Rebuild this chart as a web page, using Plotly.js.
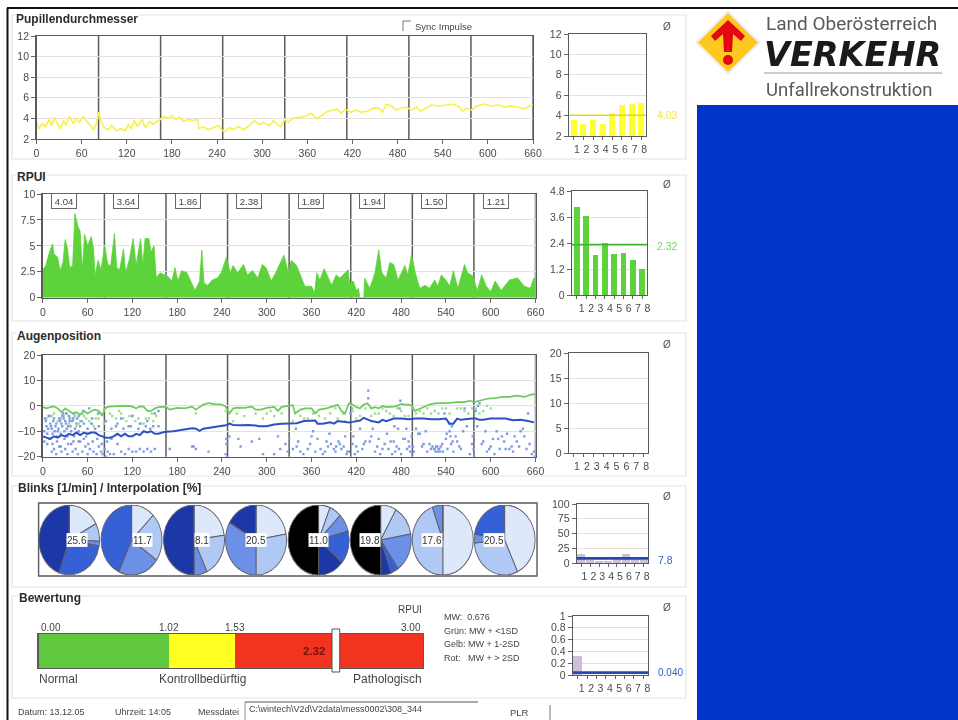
<!DOCTYPE html>
<html><head><meta charset="utf-8">
<script src="https://cdn.plot.ly/plotly-3.0.1.min.js"></script>
<style>
html,body{margin:0;padding:0;background:#fff;width:958px;height:720px;overflow:hidden}
#wrap{position:relative;width:958px;height:720px;filter:blur(0.7px)}
#main{position:absolute;left:0;top:0;width:958px;height:720px}
#pies{position:absolute;left:39px;top:505px;width:498px;height:61px;transform-origin:0 0;transform:scaleY(1.148);pointer-events:none}
</style></head><body>
<div id="wrap"><div id="main"></div><div id="pies"></div></div>
<script>
// ---------- data ----------
const timeTicks=[0,60,120,180,240,300,360,420,480,540,600,660];
const segmentEnds=[82.5,165,247.5,330,412.5,495,577.5,660];
const segments=[1,2,3,4,5,6,7,8];

const pupilT=[0,3,8,12,17,20,24,27,32,36,39,44,49,53,57,62,66,72,76,80,83,86,90,95,100,106,112,118,122,126,130,134,140,145,150,155,160,165,170,176,180,185,190,196,202,208,214,216,222,228,235,242,246,250,256,262,268,276,284,290,296,302,310,315,320,325,330,335,340,350,358,365,372,380,385,392,400,405,410,418,425,432,440,448,455,460,465,472,478,485,492,498,505,510,518,525,535,545,555,562,566,572,578,585,595,605,615,622,630,640,648,655,660];
const pupilV=[3.6,3.0,3.5,3.2,3.9,3.3,4.1,3.6,3.0,3.8,3.3,4.2,3.5,4.0,3.6,4.2,3.8,3.2,2.9,3.6,4.6,3.7,3.1,2.9,3.3,2.8,3.0,2.8,3.4,3.0,3.8,3.2,3.9,3.1,3.7,3.4,3.7,3.9,4.2,4.0,4.3,3.9,4.1,3.7,3.9,3.8,3.9,3.0,3.2,2.9,3.1,3.3,2.9,2.7,3.1,2.9,3.2,2.9,3.4,3.8,3.4,3.6,3.3,3.8,3.4,3.2,3.9,3.6,4.0,4.1,4.2,4.5,4.0,4.3,4.6,4.8,4.9,4.5,4.9,4.6,4.8,4.6,4.7,5.0,5.0,4.6,5.4,5.2,4.8,5.0,5.1,4.8,5.1,4.7,5.0,5.3,5.2,5.3,5.4,5.1,4.7,5.0,4.8,5.2,5.4,5.2,5.3,5.1,5.2,5.1,4.9,5.2,5.3];

const rpuiT=[0,4,9,13,15,20,23,27,30,33,36,40,43,47,50,53,56,60,65,68,70,74,78,83,87,91,96,99,103,108,111,116,121,125,131,134,137,142,145,149,152,157,163,167,173,177,181,186,193,199,204,210,213,216,221,227,234,239,246,251,255,261,269,274,281,288,294,299,306,312,323,329,333,340,346,351,360,364,367,371,377,381,387,393,398,402,409,411,416,420,423,424.5,430,431,438,445,450,454,460,465,470,476,485,489,494,499,505,512,518,525,529,534,541,545,550,556,565,569,576,582,588,594,600,606,614,625,636,645,653,658,660];
const rpuiV=[2.7,3.1,4.4,5.2,4.2,3.9,2.6,3.4,5.6,4.7,2.9,3.1,8.1,6.9,6.4,2.7,6.1,5.0,5.9,4.7,2.1,3.6,2.7,5.0,3.2,3.1,6.2,2.9,2.7,4.7,2.4,3.7,5.7,3.1,5.7,3.1,5.7,5.7,4.4,5.0,1.9,2.4,2.2,2.1,1.6,2.9,1.6,2.6,2.4,1.4,0.7,1.6,4.6,1.4,1.2,1.7,1.9,2.4,3.9,2.4,3.1,2.4,3.2,2.2,2.6,1.9,3.2,2.9,1.6,2.4,4.1,2.4,3.6,3.1,1.9,1.1,1.1,0.4,2.4,1.7,2.8,2.1,1.2,2.2,1.9,2.2,2.7,1.4,1.6,0.7,0.9,0,0,1.9,0.9,2.4,4.6,2.4,1.9,3.4,3.2,1.7,3.1,2.2,4.2,2.4,0.9,1.2,0.9,1.7,1.1,2.2,1.6,1.1,2.6,0.9,3.2,2.4,2.1,0.7,2.2,1.1,0.6,1.6,0.7,1.7,1.9,1.1,0.9,1.9,1.9];
const rpuiBoxes=["4.04","3.64","1.86","2.38","1.89","1.94","1.50","1.21"];

const eyeGreenT=[0,5,10,15,20,25,30,35,40,45,50,55,60,65,70,75,80,83,88,95,105,115,120,125,130,135,140,145,150,155,165,170,180,190,200,205,210,215,222,230,240,245,250,255,262,270,280,285,292,300,310,315,320,330,335,338,345,352,360,365,370,380,388,395,400,405,410,415,420,425,430,435,440,445,450,455,460,465,470,475,480,485,490,495,498,502,510,518,525,535,545,555,565,572,578,585,595,605,615,625,635,645,655,660];
const eyeGreenV=[-0.5,-1,-0.5,-0.2,-1,-2.5,-1,-2,-3,-2.5,-3.5,-2,-3,-2,-1.5,-2,-4,-1,-0.3,-0.2,-0.2,0,-0.3,-1,-0.2,-0.3,-2,-2,-1,-0.5,-0.3,-1.5,-0.8,-1,-0.3,-1.5,-0.5,0.5,1.1,0.7,0.5,-0.3,-3,-1,-0.7,-0.8,-0.3,-1.5,-1.5,-0.8,-0.4,-2,-0.4,0,0.3,-3,-1.5,-1,-1,-3,-1.5,-1,-0.3,0.4,-2,-3,1,0.5,-0.5,-1,0.5,1,-1,-0.5,-1,0,-0.5,-0.5,-0.3,0,0.8,0.5,0.5,0,-2,-1.5,-0.5,0.5,1,1,1.2,1.5,1.5,2,1.5,2,2.8,3,3.5,3.5,4,3.5,4.5,4.5];
const eyeBlueT=[0,5,10,15,20,25,30,35,40,45,50,55,60,65,70,75,80,85,90,95,100,105,110,115,120,125,130,135,140,145,150,155,160,165,175,185,195,200,205,210,215,222,230,240,247,250,255,265,275,285,290,300,310,320,330,340,350,360,365,368,375,385,390,395,400,410,415,425,430,435,440,450,455,460,470,480,490,500,510,520,530,540,545,550,555,560,570,575,580,585,590,600,610,620,630,640,650,658];
const eyeBlueV=[-12,-12.5,-13,-12,-12.5,-11.5,-12,-11,-11.5,-10.5,-11.5,-10.5,-11,-10.5,-10.5,-11.5,-12,-12.5,-12.5,-12,-11,-12,-11,-12,-12,-11,-11.5,-10,-10.5,-10,-11,-11,-10.5,-10.2,-10,-9.5,-9,-8.8,-9,-9.8,-9,-8.7,-8.5,-8,-7.5,-7,-7.5,-7.6,-7.5,-7.7,-8,-8,-7.3,-7,-7,-6.8,-6,-5.8,-5.8,-7,-7,-6.5,-7,-6,-6.2,-6.5,-6.3,-5.8,-4.7,-5.3,-6,-6.5,-5.5,-6,-5,-5,-5.3,-5,-5,-5.3,-5.3,-5,-7,-7,-5,-5.5,-5,-5,-5,-5.5,-5.5,-5,-5,-5,-5.7,-5.5,-6,-6.5];
const blueDotsT=[3,5,8,10,12,14,17,20,22,25,27,30,32,35,37,40,43,46,50,55,60,62,65,70,75,12,15,18,22,25,30,33,38,40,44,47,50,53,57,60,63,68,72,75,78,80,83,85,87,90,95,100,105,110,115,120,125,130,135,140,145,150,100,105,115,120,130,140,150,155,155,170,200,202,205,222,245,246,246,247,250,262,265,280,290,295,310,315,318,325,328,330,335,340,345,355,360,365,372,378,382,386,390,393,396,400,403,407,410,412,414,416,418,422,428,432,436,436,440,445,450,452,458,463,468,470,472,474,476,478,479,480,485,488,490,492,494,495,496,500,505,510,515,520,525,528,530,532,535,538,540,542,545,546,547,548,550,555,560,565,572,576,577,578,580,583,585,590,595,600,605,610,615,620,625,630,635,640,645,650,652,655,658,659,
 2,4,6,7,9,11,13,15,16,18,19,21,23,24,26,28,29,31,33,34,36,38,41,42,45,48,52,58,2,6,9,13,19,24,29,34,41,48,55,61,67,73,79,86,92,26,31,36,42,48,54,66,74,84,92,98,108,118,128,138,144,148,
 339,342,349,358,362,368,375,380,384,392,398,405,408,415,420,425,430,438,442,448,455,461,466,471,477,483,487,491,497,503,508,513,518,522,524,526,527,529,531,533,536,541,544,549,553,558,563,568,575,582,588,593,598,603,608,612,618,622,628,632,638,643,648];
const blueDotsV=[-5,-8,-4,-7,-9,-6,-8,-10,-5,-7,-3,-6,-9,-4,-8,-6,-9,-5,-8,-7,-9,-1,-7,-9,-8,-18,-17,-19,-16,-18,-17,-19,-15,-18,-17,-19,-14,-18,-16,-19,-17,-18,-19,-16,-18,-19,-17,-20,-18,-19,-19,-15,-18,-19,-17,-18,-18,-17,-18,-17,-18,-17,-7,-5,-8,-4,-7,-6,-3,-2,-8,-17,-16,-16,-17,-18,-19,-13,-15,-20,-12,-13,-16,-14,-13,-19,-19,-12,-17,-15,-18,-13,-17,-16,-18,-17,-12,-18,-17,-18,-16,-15,-17,-16,-14,-17,-16,-19,-18,-3,-1,-12,-19,-18,-17,-14,6,3,-12,-18,-13,-19,-15,-17,-19,-14,-18,-16,-9,-1,2,-19,-13,-17,-14,-18,-12,-19,-16,-9,-11,-15,-18,-17,-17,-16,-17,-18,-15,-3,-13,-17,-10,-12,-15,-8,-18,-14,-17,-1,-19,-12,-17,-20,-2,0,1,-14,-18,-16,-19,-13,-12,-17,-17,-18,-14,-10,-12,-3,-15,-19,-18,-20,
 -10,-6,-11,-9,-4,-8,-11,-5,-10,-7,-12,-9,-6,-11,-8,-5,-10,-7,-12,-8,-6,-10,-5,-12,-7,-10,-6,-12,-14,-15,-13,-15,-14,-16,-13,-15,-14,-14,-13,-15,-14,-13,-15,-14,-13,-4,-3,-5,-3,-4,-2,-5,-3,-6,-9,-8,-9,-8,-9,-8,-9,-8,
 -9,-14,-19,-15,-10,-13,-19,-14,-11,-18,-15,-12,-18,-15,-16,-9,-15,-14,-9,-16,-17,-11,-14,-8,-17,-13,-9,-16,-18,-11,-16,-10,-15,-16,-17,-18,-16,-18,-17,-16,-18,-11,-7,-14,-12,-16,-10,-8,-15,-8,-15,-10,-17,-13,-10,-17,-14,-11,-16,-12,-16,-9,-17];
const greenDotsT=[5,12,20,28,35,40,45,50,55,62,68,75,82,90,98,105,112,120,128,135,142,148,205,245,255,270,300,310,320,335,345,355,370,385,395,405,415,425,440,450,460,470,480,490,500,510,520,530,540,560,570,580,590,600,
 15,24,32,38,43,48,53,58,66,71,78,85,93,102,108,116,124,132,138,146,152,260,285,295,305,350,362,378,392,402,420,432,445,455,465,475,485,495,505,515,525,535,545,555,565,575,585,595];
const greenDotsV=[-5,-4,-6,-4,-7,-5,-8,-6,-4,-6,-8,-5,-7,-3,-5,-3,-6,-4,-5,-7,-5,-6,-3,-2,-6,-4,-3,-4,-3,-6,-4,-5,-4,-3,-5,-6,-2,-4,-4,-3,-2,-4,-2,-4,-3,-3,-3,-3,-1,-1,-3,-1,-2,-1,
 -3,-5,-3,-6,-4,-7,-3,-5,-7,-5,-3,-6,-4,-2,-5,-4,-6,-7,-5,-3,-4,-3,-3,-5,-2,-5,-3,-5,-1,-3,-5,-1,-3,-1,-3,-1,-4,-1,-2,-1,-2,-1,-3,-1,-2,-1,-3,0];

const smallPupil=[3.6,3.2,3.6,3.2,4.3,5.0,5.1,5.2];   const meanPupil=4.03;
const smallRpui=[4.04,3.64,1.86,2.38,1.89,1.94,1.60,1.21]; const meanRpui=2.32;
const smallEye=[0,0,0,0,0,0,0,0];
const smallBlinks=[15,5,4,3,10,15,6,5];               const meanBlinks=7.8;
const smallEval=[0.32,0,0,0,0,0,0,0];                 const meanEval=0.04;

const pieLabels=["25.6","11.7","8.1","20.5","11.0","19.8","17.6","20.5"];
const pieSlices=[
 [62,30,8,100,160,0],
 [45,80,80,155,0,0],
 [82,73,25,0,180,0],
 [80,100,120,0,60,0],
 [22,23,30,55,50,180],
 [30,50,65,15,20,180],
 [180,160,20,0,0,0],
 [155,110,15,80,0,0]];
const pieNames=["a","b","c","d","e","f"];
const pieColors=["#DDE9FB","#AFC8F4","#6C90E6","#3560D6","#1B38A6","#000000"];

const ratingBreaks=[0,1.02,1.53,3];
const ratingLabels=["0.00","1.02","1.53","3.00"];
const ratingSpans=[1.02,0.51,1.47];
const ratingColors=["#5FC83E","#FFFF22","#F23320"];
const ratingValue=2.32;
const legendLines=["MW:  0.676","Grün: MW + <1SD","Gelb: MW + 1-2SD","Rot:   MW + > 2SD"];

// ---------- layout helpers (pixel frame of the 958x720 picture) ----------
const W=958,H=720;
const fx=x=>x/W, fy=y=>1-y/H;
const NARROW='"Liberation Sans Narrow","Liberation Sans",Arial,sans-serif';
const SANS='"Liberation Sans",Arial,sans-serif';
const tickFont={family:NARROW,size:10.5,color:'#4a4a4a'};
const grid='#E9DFE0', frame='#5a5a5a';
function xAxis(anchor,x0,x1,o){return Object.assign({anchor,domain:[fx(x0),fx(x1)],showline:true,mirror:true,linecolor:frame,linewidth:1.4,ticks:'outside',ticklen:4,tickcolor:'#666',tickfont:tickFont,showgrid:false,zeroline:false,fixedrange:true},o);}
function yAxis(anchor,y0,y1,o){return Object.assign({anchor,domain:[fy(y1),fy(y0)],showline:true,mirror:true,linecolor:frame,linewidth:1.4,ticks:'outside',ticklen:4,tickcolor:'#666',tickfont:tickFont,showgrid:true,gridcolor:grid,gridwidth:1,zeroline:false,fixedrange:true},o);}
const timeOpt={range:[0,660],tickvals:timeTicks,ticktext:timeTicks.map(String)};
const catOpt=s=>({range:[0.5,8.5],tickvals:segments,ticktext:segments.map(String),ticklabelshift:s,ticklen:3});

const layout={width:W,height:H,margin:{l:0,r:0,t:0,b:0},paper_bgcolor:'rgba(0,0,0,0)',plot_bgcolor:'rgba(0,0,0,0)',showlegend:false,barmode:'stack',
 xaxis:xAxis('y',36.5,533,timeOpt), yaxis:yAxis('x',36,139,{range:[2,12],dtick:2}),
 xaxis2:xAxis('y2',42.8,535.5,timeOpt), yaxis2:yAxis('x2',194,297.7,{range:[0,10],dtick:2.5}),
 xaxis3:xAxis('y3',42.8,535.5,timeOpt), yaxis3:yAxis('x3',355,456.7,{range:[-20,20],dtick:10}),
 xaxis4:xAxis('y4',569,646,catOpt(3)), yaxis4:yAxis('x4',34,136,{range:[2,12],dtick:2}),
 xaxis5:xAxis('y5',572,647,catOpt(5)), yaxis5:yAxis('x5',191,295,{range:[0,4.8],dtick:1.2}),
 xaxis6:xAxis('y6',569,648,catOpt(3)), yaxis6:yAxis('x6',353,453,{range:[0,20],dtick:5}),
 xaxis7:xAxis('y7',577,648,catOpt(3)), yaxis7:yAxis('x7',504,563,{range:[0,100],dtick:25}),
 xaxis8:xAxis('y8',573,648,catOpt(4)), yaxis8:yAxis('x8',616,675,{range:[0,1],dtick:0.2}),
 xaxis9:xAxis('y9',38.6,423,{range:[0,3],ticks:'',showticklabels:false}),
 yaxis9:yAxis('x9',634,668,{range:[-0.5,0.5],ticks:'',showticklabels:false,showgrid:false}),
 shapes:[],annotations:[]};

const S=layout.shapes,A=layout.annotations;
const boxLine={color:'#E6E2E2',width:1.2};
// panels
[[15,159],[175,321],[333,476],[486,587],[596,698]].forEach(p=>S.push({type:'rect',xref:'paper',yref:'paper',layer:'below',x0:fx(12),x1:fx(686),y0:fy(p[1]),y1:fy(p[0]),line:boxLine}));
// black frame, blue area
S.push({type:'line',xref:'paper',yref:'paper',x0:fx(7),x1:1,y0:fy(8),y1:fy(8),line:{color:'#111',width:2}});
S.push({type:'line',xref:'paper',yref:'paper',x0:fx(7.5),x1:fx(7.5),y0:fy(8),y1:0,line:{color:'#111',width:2}});
S.push({type:'rect',xref:'paper',yref:'paper',x0:fx(697),x1:1,y0:0,y1:fy(105),fillcolor:'#0033C8',line:{width:0}});
// segment markers
[['x','y'],['x2','y2'],['x3','y3']].forEach(a=>segmentEnds.forEach(t=>S.push({type:'line',layer:'below',xref:a[0],yref:a[1]+' domain',x0:t,x1:t,y0:0,y1:1,line:{color:'#5c5c5c',width:1.5}})));
// means
function meanLine(ax,v,c,w){S.push({type:'line',xref:'x'+ax+' domain',yref:'y'+ax,x0:0,x1:1,y0:v,y1:v,line:{color:c,width:w}});}
meanLine(4,meanPupil,'#E6D70E',1.5); meanLine(5,meanRpui,'#3FB52C',1.5); meanLine(7,meanBlinks,'#2747B4',2.6); meanLine(8,meanEval,'#2747B4',2.6);
// pies frame
S.push({type:'rect',xref:'paper',yref:'paper',x0:fx(38.6),x1:fx(537),y0:fy(576),y1:fy(503),line:{color:'#5a5a5a',width:1.4}});
// rating slider
S.push({type:'rect',xref:'x9',yref:'paper',x0:ratingValue-0.03,x1:ratingValue+0.03,y0:fy(672),y1:fy(629),fillcolor:'#fff',line:{color:'#555',width:1}});
// file box and separators
S.push({type:'line',xref:'paper',yref:'paper',x0:fx(245),x1:fx(478),y0:fy(702),y1:fy(702),line:{color:'#8c8c9c',width:1.5}});
S.push({type:'line',xref:'paper',yref:'paper',x0:fx(245),x1:fx(245),y0:fy(702),y1:0,line:{color:'#8c8c9c',width:1}});
S.push({type:'line',xref:'paper',yref:'paper',x0:fx(550),x1:fx(550),y0:fy(705),y1:0,line:{color:'#777',width:1}});
// checkbox edges
S.push({type:'path',xref:'paper',yref:'paper',path:`M${fx(403)},${fy(31)}L${fx(403)},${fy(21)}L${fx(411)},${fy(21)}`,line:{color:'#777',width:1}});
// logo
const P=(a)=>a.map((p,i)=>(i?'L':'M')+fx(p[0])+','+fy(p[1])).join('')+'Z';
S.push({type:'path',xref:'paper',yref:'paper',path:P([[728,10],[761,42.5],[728,75],[695,42.5]]),fillcolor:'#EDEDF2',line:{width:0}});
S.push({type:'path',xref:'paper',yref:'paper',path:P([[728,13],[758,42.5],[728,72],[698,42.5]]),fillcolor:'#FFC81E',line:{width:0}});
S.push({type:'path',xref:'paper',yref:'paper',path:P([[728,20],[745,36],[741,41],[733,34],[732,52],[724,52],[723,34],[715,41],[711,36]]),fillcolor:'#E30613',line:{width:0}});
S.push({type:'circle',xref:'paper',yref:'paper',x0:fx(723),x1:fx(733),y0:fy(65),y1:fy(55),fillcolor:'#E30613',line:{width:0}});
S.push({type:'line',xref:'paper',yref:'paper',x0:fx(764),x1:fx(942),y0:fy(73),y1:fy(73),line:{color:'#999',width:1}});

function T(x,y,text,o){A.push(Object.assign({xref:'paper',yref:'paper',x:fx(x),y:fy(y),text,showarrow:false,xanchor:'left',yanchor:'middle',borderpad:0,font:{family:NARROW,size:9.5,color:'#444'}},o||{}));}
const titleF=s=>({family:SANS,size:s||12,color:'#2c2c2c'});
T(15,19,'<b>Pupillendurchmesser</b>',{font:titleF(),bgcolor:'#fff'});
T(16,177,'<b>RPUI</b>',{font:titleF(),bgcolor:'#fff'});
T(16,336,'<b>Augenposition</b>',{font:titleF(),bgcolor:'#fff'});
T(17,488,'<b>Blinks [1/min] / Interpolation [%]</b>',{font:titleF(),bgcolor:'#fff'});
T(18,598,'<b>Bewertung</b>',{font:titleF(),bgcolor:'#fff'});
T(414,27,'Sync Impulse',{font:{family:NARROW,size:9.5,color:'#444'}});
[27,185,344,496,607].forEach(y=>T(667,y,'Ø',{xanchor:'center',font:{family:SANS,size:10,color:'#555'}}));
T(656,115,String(meanPupil.toFixed(2)),{font:{family:NARROW,size:10.5,color:'#EFE44A'}});
T(656,246,String(meanRpui.toFixed(2)),{font:{family:NARROW,size:10.5,color:'#7AD663'}});
T(657,560,String(meanBlinks),{font:{family:NARROW,size:10.5,color:'#3A60C8'}});
T(657,672,meanEval.toFixed(3),{font:{family:NARROW,size:10,color:'#3A60C8'}});
// RPUI value boxes placed on the time axis
rpuiBoxes.forEach((s,i)=>A.push({xref:'x2',yref:'y2',x:(i?segmentEnds[i-1]:0)+29,y:9.3,text:s,showarrow:false,width:24,height:14,bgcolor:'#fff',bordercolor:'#666',borderwidth:1,borderpad:0,font:{family:NARROW,size:9.5,color:'#444'}}));
// rating labels
ratingLabels.forEach((s,i)=>A.push({xref:'x9',yref:'paper',x:ratingBreaks[i],y:fy(627),text:s,showarrow:false,xanchor:i==0?'left':(i==3?'right':'center'),yanchor:'middle',font:{family:NARROW,size:10,color:'#444'}}));
T(423,609,'RPUI',{xanchor:'right',font:{family:NARROW,size:10,color:'#444'}});
T(38,679,'Normal',{font:{family:NARROW,size:12,color:'#444'}});
T(202,679,'Kontrollbedürftig',{xanchor:'center',font:{family:NARROW,size:12,color:'#444'}});
T(423,679,'Pathologisch',{xanchor:'right',font:{family:NARROW,size:12,color:'#444'}});
A.push({xref:'x9',yref:'y9',x:ratingValue,xshift:-9,y:0,text:'<b>'+ratingValue+'</b>',xanchor:'right',showarrow:false,font:{family:SANS,size:11.5,color:'#7A1010'}});
legendLines.forEach((s,i)=>T(443,[617,631,644,658][i],s,{font:{family:NARROW,size:9,color:'#444'}}));
// status line
T(17,712,'Datum: 13.12.05',{font:{family:NARROW,size:9,color:'#444'}}); T(114,712,'Uhrzeit: 14:05',{font:{family:NARROW,size:9,color:'#444'}}); T(197,712,'Messdatei',{font:{family:NARROW,size:9,color:'#444'}});
T(248,709,'C:\\wintech\\V2d\\V2data\\mess0002\\308_344',{font:{family:NARROW,size:9,color:'#444'}});
T(509,712,'PLR',{font:{family:NARROW,size:9.5,color:'#444'}});
// logo text
T(765,24,'Land Oberösterreich',{font:{family:'Roboto,"Liberation Sans",sans-serif',size:19,color:'#5a5a5a'}});
T(763,55,'<b><i>VERKEHR</i></b>',{font:{family:'"DejaVu Sans",sans-serif',size:33.5,color:'#1a1a1a'}});
T(765,90,'Unfallrekonstruktion',{font:{family:'Roboto,"Liberation Sans",sans-serif',size:18.5,color:'#5a5a5a'}});

const bar=(ax,y,c,w)=>({type:'bar',xaxis:'x'+ax,yaxis:'y'+ax,x:segments,y,width:w,marker:{color:c,line:{width:0}},hoverinfo:'skip'});
const traces=[
 {type:'scatter',mode:'lines',x:pupilT,y:pupilV,xaxis:'x',yaxis:'y',line:{color:'#F6F04A',width:1.6}},
 {type:'scatter',mode:'lines',x:rpuiT,y:rpuiV,xaxis:'x2',yaxis:'y2',fill:'tozeroy',fillcolor:'#5DD33B',line:{color:'#5DD33B',width:0.8}},
 {type:'scatter',mode:'markers',x:greenDotsT,y:greenDotsV,xaxis:'x3',yaxis:'y3',marker:{color:'#9FDF90',size:2.4,symbol:'square'}},
 {type:'scatter',mode:'markers',x:blueDotsT,y:blueDotsV,xaxis:'x3',yaxis:'y3',marker:{color:'#7E9CE6',size:2.4,symbol:'square'}},
 {type:'scatter',mode:'lines',x:eyeGreenT,y:eyeGreenV,xaxis:'x3',yaxis:'y3',line:{color:'#6CC95A',width:1.7}},
 {type:'scatter',mode:'lines',x:eyeBlueT,y:eyeBlueV,xaxis:'x3',yaxis:'y3',line:{color:'#2D50C4',width:2}},
 bar(4,smallPupil,'#FFFF33',0.62),
 bar(5,smallRpui,'#5DD33B',0.62),
 bar(6,smallEye,'#fff',0.62),
 bar(7,smallBlinks,'#CDBFD6',0.9),
 bar(8,smallEval,'#CDBFD6',0.9)
];
ratingSpans.forEach((v,i)=>traces.push({type:'bar',orientation:'h',xaxis:'x9',yaxis:'y9',x:[v],y:[0],width:1,marker:{color:ratingColors[i],line:{width:0}},hoverinfo:'skip'}));
Plotly.newPlot('main',traces,layout,{staticPlot:true,displayModeBar:false});

// Pies (a plotly pie is always round; the reference ones are slightly taller, so the layer is stretched)
const pieCenters=[69,131.6,194,256,318.6,380.7,442.8,504.6];
const PW=498,PH=61,R=30.5;
const pieTraces=pieSlices.map((v,i)=>({type:'pie',values:v,labels:pieNames,sort:false,direction:'clockwise',rotation:0,textinfo:'none',hoverinfo:'skip',
  marker:{colors:pieColors,line:{color:'#5f5f6a',width:0.9}},domain:{x:[(pieCenters[i]-39-R)/PW,(pieCenters[i]-39+R)/PW],y:[0,1]}}));
const pieAnn=pieLabels.map((s,i)=>({xref:'paper',yref:'paper',x:(pieCenters[i]-39-(i==0?3:0))/PW,y:0.5,text:s,showarrow:false,bgcolor:'#fff',borderpad:0,font:{family:NARROW,size:10,color:'#333'}}));
Plotly.newPlot('pies',pieTraces,{width:PW,height:PH,margin:{l:0,r:0,t:0,b:0},paper_bgcolor:'rgba(0,0,0,0)',showlegend:false,annotations:pieAnn},{staticPlot:true,displayModeBar:false});
</script>
</body></html>
